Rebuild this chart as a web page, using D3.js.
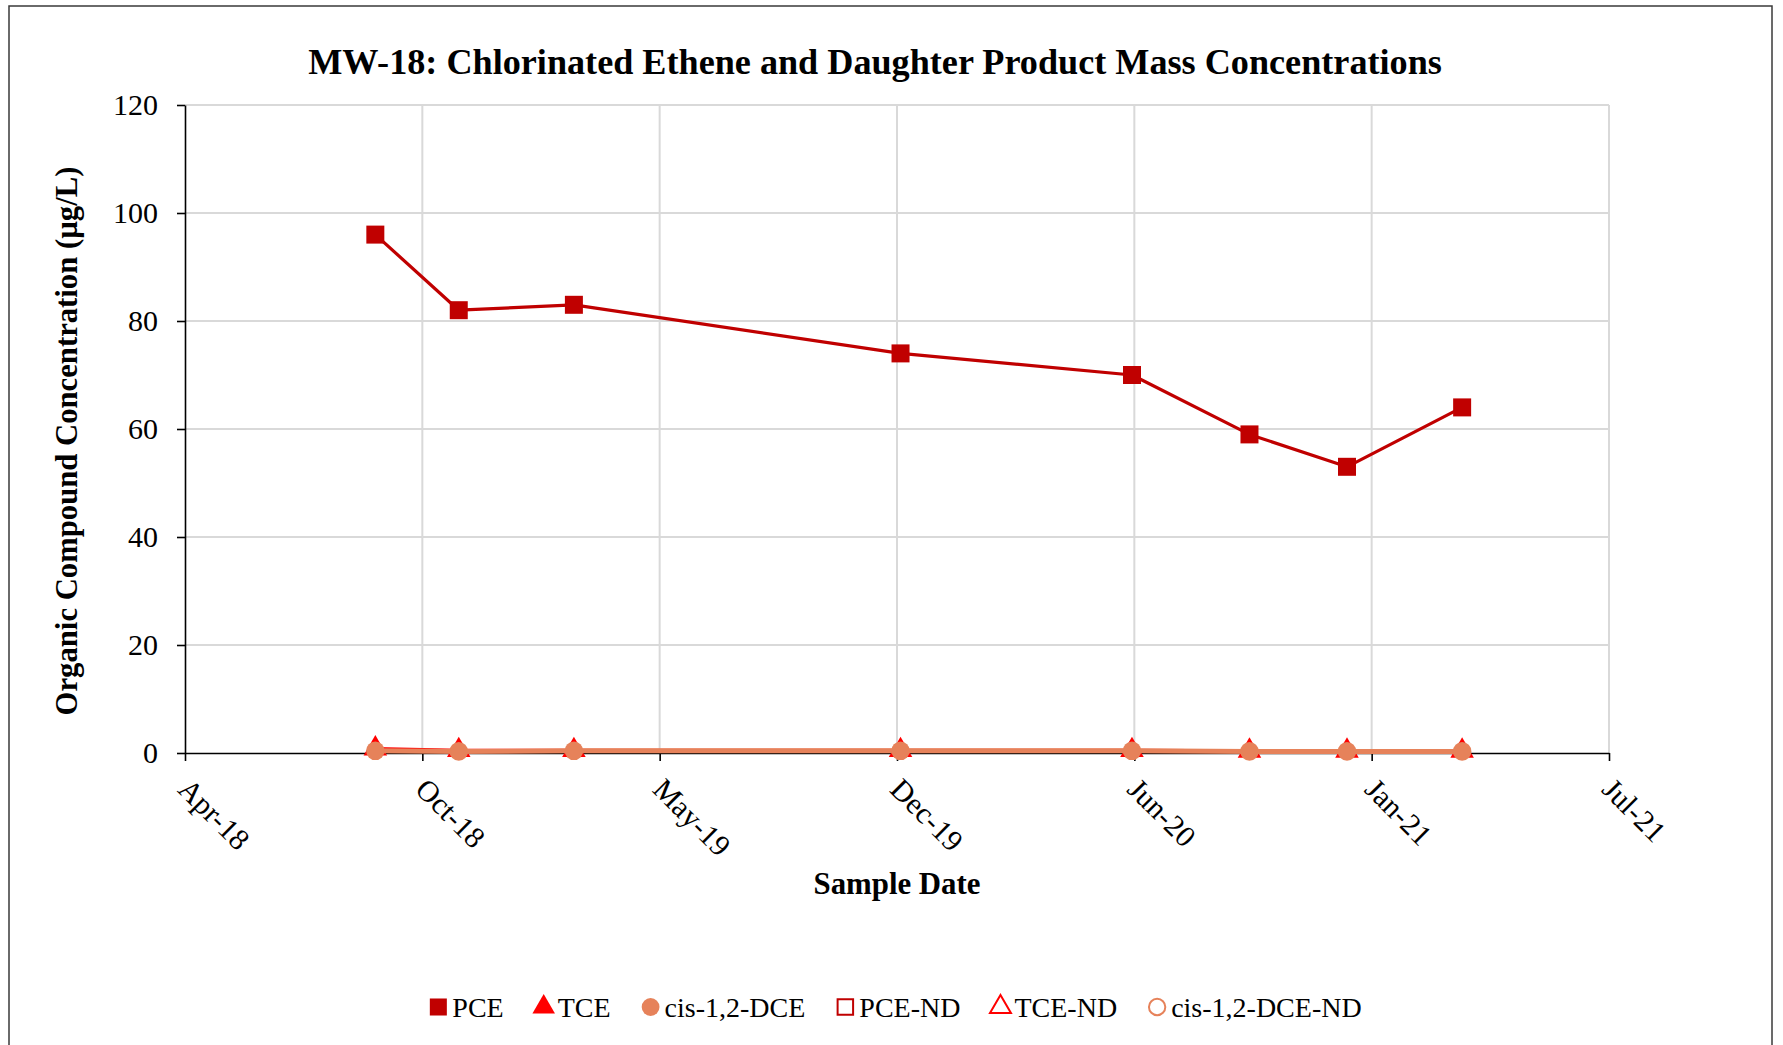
<!DOCTYPE html>
<html>
<head>
<meta charset="utf-8">
<script src="https://cdn.jsdelivr.net/npm/d3@7"></script>
<style>
  body { margin: 0; background: #fff; }
  svg { display: block; font-family: "Liberation Serif", "DejaVu Serif", serif; }
  .grid line { stroke: #d9d9d9; stroke-width: 2; }
  .axis path, .axis line { stroke: #000; stroke-width: 1.6; }
  .axis text { fill: #000; font-size: 30px; font-family: "Liberation Serif", "DejaVu Serif", serif; }
</style>
</head>
<body>
<svg id="chart" width="1783" height="1045"></svg>
<script>
/* MW-18 chlorinated ethenes — line chart, date axis */
const sampleDates = ['2018-09-14', '2018-11-24', '2019-03-02', '2019-12-05', '2020-06-19', '2020-09-27', '2020-12-19', '2021-03-27'];
const pceValues = [96, 82, 83, 74, 70, 59, 53, 64];
const tceValues = [0.8, 0.5, 0.5, 0.5, 0.5, 0.4, 0.4, 0.4];
const dceValues = [0.4, 0.3, 0.4, 0.4, 0.4, 0.3, 0.3, 0.3];
const pceNdValues = [];
const tceNdValues = [];
const dceNdValues = [];
const xTickDates = ['2018-04-05', '2018-10-24', '2019-05-14', '2019-12-02', '2020-06-21', '2021-01-09', '2021-07-30'];
const yTickValues = [0, 20, 40, 60, 80, 100, 120];
const legendNames = ['PCE', 'TCE', 'cis-1,2-DCE', 'PCE-ND', 'TCE-ND', 'cis-1,2-DCE-ND'];

(function () {
  const parse = d3.utcParse('%Y-%m-%d');
  const svg = d3.select('#chart');
  const margin = { top: 105, left: 185, right: 174, bottom: 292 };
  const W = 1783 - margin.left - margin.right, H = 1045 - margin.top - margin.bottom;

  // outer frame
  svg.append('rect').attr('x', 9).attr('y', 6).attr('width', 1763).attr('height', 1060)
    .attr('fill', 'none').attr('stroke', '#3a3a3a').attr('stroke-width', 1.5);

  const g = svg.append('g').attr('transform', `translate(${margin.left},${margin.top})`);
  const ticks = xTickDates.map(parse);
  const x = d3.scaleUtc().domain([ticks[0], ticks[ticks.length - 1]]).range([0, W]);
  const y = d3.scaleLinear().domain([0, 120]).range([H, 0]);

  // grid
  const grid = g.append('g').attr('class', 'grid');
  yTickValues.filter(v => v > 0).forEach(v => {
    grid.append('line').attr('x1', 0).attr('x2', W).attr('y1', y(v)).attr('y2', y(v));
  });
  ticks.slice(1).forEach(t => {
    grid.append('line').attr('x1', x(t)).attr('x2', x(t)).attr('y1', 0).attr('y2', H);
  });

  // axes
  g.append('g').attr('class', 'axis')
    .call(d3.axisLeft(y).tickValues(yTickValues).tickSize(8).tickPadding(19).tickSizeOuter(0))
    .attr('font-family', null).attr('font-size', null);
  const xa = g.append('g').attr('class', 'axis').attr('transform', `translate(0,${H})`)
    .call(d3.axisBottom(x).tickValues(ticks).tickFormat(d3.utcFormat('%b-%y')).tickSize(8).tickSizeOuter(0))
    .attr('font-family', null).attr('font-size', null);
  xa.selectAll('text').attr('x', 0).attr('y', 0).attr('dy', 0)
    .attr('text-anchor', 'start').attr('transform', 'translate(-9,38) rotate(45)');

  // series
  const series = [
    { vals: pceValues, color: '#c00000', shape: d3.symbolSquare, size: 324, width: 3.2 },
    { vals: tceValues, color: '#ff0000', shape: d3.symbolTriangle, size: 240, width: 3.2 },
    { vals: dceValues, color: '#e6825a', shape: d3.symbolCircle, size: 270, width: 5 }
  ];
  const dates = sampleDates.map(parse);
  const line = d3.line().x(d => x(d[0])).y(d => y(d[1]));
  series.forEach(s => {
    const pts = dates.map((d, i) => [d, s.vals[i]]);
    g.append('path').datum(pts).attr('d', line).attr('fill', 'none')
      .attr('stroke', s.color).attr('stroke-width', s.width).attr('stroke-linejoin', 'round');
    g.selectAll(null).data(pts).enter().append('path')
      .attr('d', d3.symbol().type(s.shape).size(s.size))
      .attr('transform', d => `translate(${x(d[0])},${y(d[1])})`)
      .attr('fill', s.color);
  });

  // fit helper for bold titles
  function fit(sel, target) {
    const len = sel.node().getComputedTextLength();
    const fs = parseFloat(sel.attr('font-size'));
    sel.attr('font-size', fs * target / len);
  }

  const title = svg.append('text').attr('x', 875).attr('y', 74).attr('text-anchor', 'middle')
    .attr('font-weight', 'bold').attr('font-size', 32)
    .text('MW-18: Chlorinated Ethene and Daughter Product Mass Concentrations');
  fit(title, 1134);

  const xt = svg.append('text').attr('x', 897).attr('y', 894).attr('text-anchor', 'middle')
    .attr('font-weight', 'bold').attr('font-size', 27).text('Sample Date');
  fit(xt, 167);

  const yt = svg.append('text').attr('transform', 'translate(77,441) rotate(-90)').attr('text-anchor', 'middle')
    .attr('font-weight', 'bold').attr('font-size', 27).text('Organic Compound Concentration (\u00b5g/L)');
  fit(yt, 549);

  // legend
  const legendShapes = [
    { shape: d3.symbolSquare, size: 290, color: '#c00000', fill: true },
    { shape: d3.symbolTriangle, size: 220, color: '#ff0000', fill: true },
    { shape: d3.symbolCircle, size: 250, color: '#e6825a', fill: true },
    { shape: d3.symbolSquare, size: 240, color: '#c00000', fill: false },
    { shape: d3.symbolTriangle, size: 190, color: '#ff0000', fill: false },
    { shape: d3.symbolCircle, size: 210, color: '#e6825a', fill: false }
  ];
  const lg = svg.append('g');
  let cx = 0;
  legendNames.forEach((name, i) => {
    const m = legendShapes[i];
    lg.append('path').attr('d', d3.symbol().type(m.shape).size(m.size))
      .attr('transform', `translate(${cx + 8},0)`)
      .attr('fill', m.fill ? m.color : '#fff').attr('stroke', m.fill ? 'none' : m.color).attr('stroke-width', 2);
    const t = lg.append('text').attr('x', cx + 22).attr('y', 10).attr('font-size', 28).text(name);
    cx += 22 + t.node().getComputedTextLength() + 32;
  });
  const total = cx - 32;
  lg.attr('transform', `translate(${896 - total / 2},1007)`);
})();
</script>
</body>
</html>
